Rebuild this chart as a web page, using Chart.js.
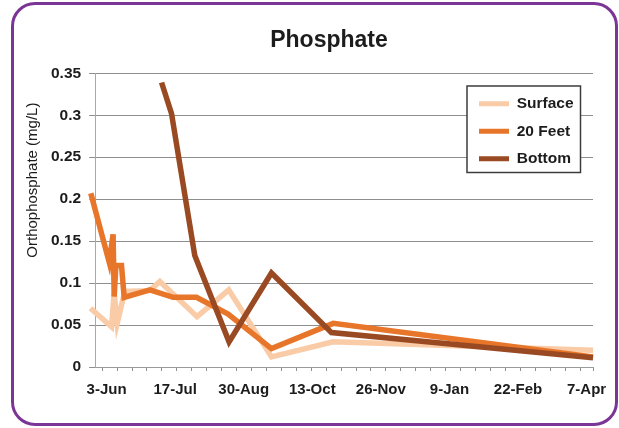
<!DOCTYPE html>
<html><head><meta charset="utf-8">
<script src="https://cdn.jsdelivr.net/npm/chart.js@4/dist/chart.umd.min.js"></script>
<style>
html,body{margin:0;padding:0;background:#fff;}
#wrap{position:relative;width:619px;height:428px;overflow:hidden;}
#frame{position:absolute;left:11px;top:2px;width:601px;height:418px;border:3px solid #7b3596;border-radius:24px;}
canvas{position:absolute;left:0;top:0;}
</style></head><body>
<div id="wrap"><div id="frame"></div><canvas id="c" width="619" height="428"></canvas></div>
<script>
// x values are days after 3-Jun
const tickLabels = ['3-Jun','17-Jul','30-Aug','13-Oct','26-Nov','9-Jan','22-Feb','7-Apr'];
const tickDays = [0, 44, 88, 132, 176, 220, 264, 308];

const surfaceDays   = [-10.3, 3.2, 4.9, 6.8, 11.7, 27.8, 34.2, 58.1, 78.4, 105.8, 145.4, 312.1];
const surfaceValues = [0.070, 0.048, 0.088, 0.052, 0.090, 0.091, 0.102, 0.060, 0.092, 0.012, 0.030, 0.020];

const feet20Days   = [-10.1, 1.7, 4.2, 4.9, 6.0, 9.6, 11.3, 27.8, 42.7, 57.7, 78.0, 105.8, 145.4, 312.1];
const feet20Values = [0.207, 0.125, 0.158, 0.084, 0.121, 0.121, 0.083, 0.092, 0.083, 0.083, 0.063, 0.022, 0.052, 0.012];

const bottomDays   = [35.3, 41.7, 56.6, 78.6, 105.8, 144.3, 312.1];
const bottomValues = [0.339, 0.302, 0.133, 0.030, 0.112, 0.041, 0.011];

const X_MIN = -7.3, X_MAX = 312.1;
const MINOR_START = -2.8, MINOR_STEP = 9.58;
const FONT = "'Liberation Sans', Arial, sans-serif";
const TXT = '#1c1c1c';
const TITLE_CENTER_X = 329;
const Y_TITLE_SHIFT = -40;
const LEGEND_LEFT = 467, LEGEND_TOP = 84;

const pts = (days, vals) => days.map((d, i) => ({x: d, y: vals[i]}));

function xTicks() {
  const t = [];
  for (let v = MINOR_START; v < X_MAX - 1; v += MINOR_STEP) t.push(v);
  t.push(X_MAX);
  tickDays.forEach(d => t.push(d));
  return t.sort((a, b) => a - b);
}

function drawLegendFrame(chart) {
  const c = chart.ctx;
  c.save();
  c.fillStyle = '#ffffff';
  c.strokeStyle = '#3c3c3c';
  c.lineWidth = 1.5;
  c.fillRect(LEGEND_LEFT, LEGEND_TOP + 2, 113.5, 86.5);
  c.strokeRect(LEGEND_LEFT, LEGEND_TOP + 2, 113.5, 86.5);
  c.restore();
}

const tweaks = {
  id: 'tweaks',
  beforeLayout(chart) {
    const lg = chart.legend;
    if (lg && !lg._patched) {
      lg._patched = true;
      lg._layers = function () {
        return [{z: 1, draw(area) { drawLegendFrame(chart); lg.draw(area); }}];
      };
    }
  },
  afterLayout(chart) {
    const t = chart.titleBlock;
    if (t) { const c = (t.left + t.right) / 2; t.left += 2 * (TITLE_CENTER_X - c); }
    const lg = chart.legend;
    if (lg) {
      lg.left = LEGEND_LEFT; lg.top = LEGEND_TOP;
      lg.right = LEGEND_LEFT + 120; lg.bottom = LEGEND_TOP + 200;
    }
    const ys = chart.scales.y;
    if (ys && !ys._titlePatched) {
      ys._titlePatched = true;
      const orig = ys.drawTitle;
      ys.drawTitle = function () {
        const t0 = this.top, b0 = this.bottom;
        this.top = t0 + Y_TITLE_SHIFT; this.bottom = b0 + Y_TITLE_SHIFT;
        try { orig.call(this); } finally { this.top = t0; this.bottom = b0; }
      };
    }
  }
};

const common = {pointRadius: 0, pointHoverRadius: 0, borderWidth: 5.5, tension: 0, clip: false,
                borderJoinStyle: 'miter', borderCapStyle: 'butt'};

new Chart(document.getElementById('c'), {
  type: 'line',
  data: {
    datasets: [
      Object.assign({label: 'Surface', data: pts(surfaceDays, surfaceValues),
        borderColor: '#f9cba6', backgroundColor: '#f9cba6', order: 3}, common),
      Object.assign({label: '20 Feet', data: pts(feet20Days, feet20Values),
        borderColor: '#e8762a', backgroundColor: '#e8762a', order: 2}, common),
      Object.assign({label: 'Bottom', data: pts(bottomDays, bottomValues),
        borderColor: '#9a4a22', backgroundColor: '#9a4a22', order: 1}, common)
    ]
  },
  options: {
    responsive: false, animation: false, devicePixelRatio: 1,
    layout: {padding: {left: 22, right: 26, top: 20, bottom: 19}},
    plugins: {
      title: {display: true, text: 'Phosphate', color: TXT,
        font: {family: FONT, size: 23, weight: 'bold'}, padding: {top: 7, bottom: 18.7}},
      legend: {
        position: 'chartArea', align: 'start',
        labels: {
          boxWidth: 30, boxHeight: 5, padding: 12, color: TXT,
          font: {family: FONT, size: 15.5, weight: 'bold'},
          sort: (a, b) => a.datasetIndex - b.datasetIndex,
          generateLabels(chart) {
            const items = Chart.defaults.plugins.legend.labels.generateLabels(chart);
            return items.map(it => Object.assign(it, {lineWidth: 0, fillStyle: it.strokeStyle}));
          }
        }
      },
      tooltip: {enabled: false}
    },
    scales: {
      x: {
        type: 'linear', min: X_MIN, max: X_MAX,
        afterBuildTicks(scale) { scale.ticks = xTicks().map(v => ({value: v})); },
        ticks: {
          autoSkip: false, maxRotation: 0, minRotation: 0, padding: 10, color: TXT,
          font: {family: FONT, size: 15, weight: 'bold'},
          callback(v) { const i = tickDays.indexOf(v); return i >= 0 ? tickLabels[i] : ''; }
        },
        grid: {
          drawOnChartArea: false, drawTicks: true, tickLength: 4,
          color: ctx => (ctx.tick && tickDays.indexOf(ctx.tick.value) >= 0) ? 'rgba(0,0,0,0)' : '#8e8e8e'
        },
        border: {color: '#9a9a9a', width: 1}
      },
      y: {
        min: 0, max: 0.35,
        ticks: {stepSize: 0.05, padding: 8, color: TXT,
          font: {family: FONT, size: 15.5, weight: 'bold'},
          callback: v => String(Number(v.toFixed(2)))},
        grid: {color: '#8e8e8e', tickLength: 6, lineWidth: 1},
        border: {color: '#a8a8a8', width: 1},
        title: {display: true, text: 'Orthophosphate (mg/L)', color: TXT,
          font: {family: FONT, size: 15, weight: 'normal'}, padding: {top: 2, bottom: 1}}
      }
    }
  },
  plugins: [tweaks]
});
</script>
</body></html>
